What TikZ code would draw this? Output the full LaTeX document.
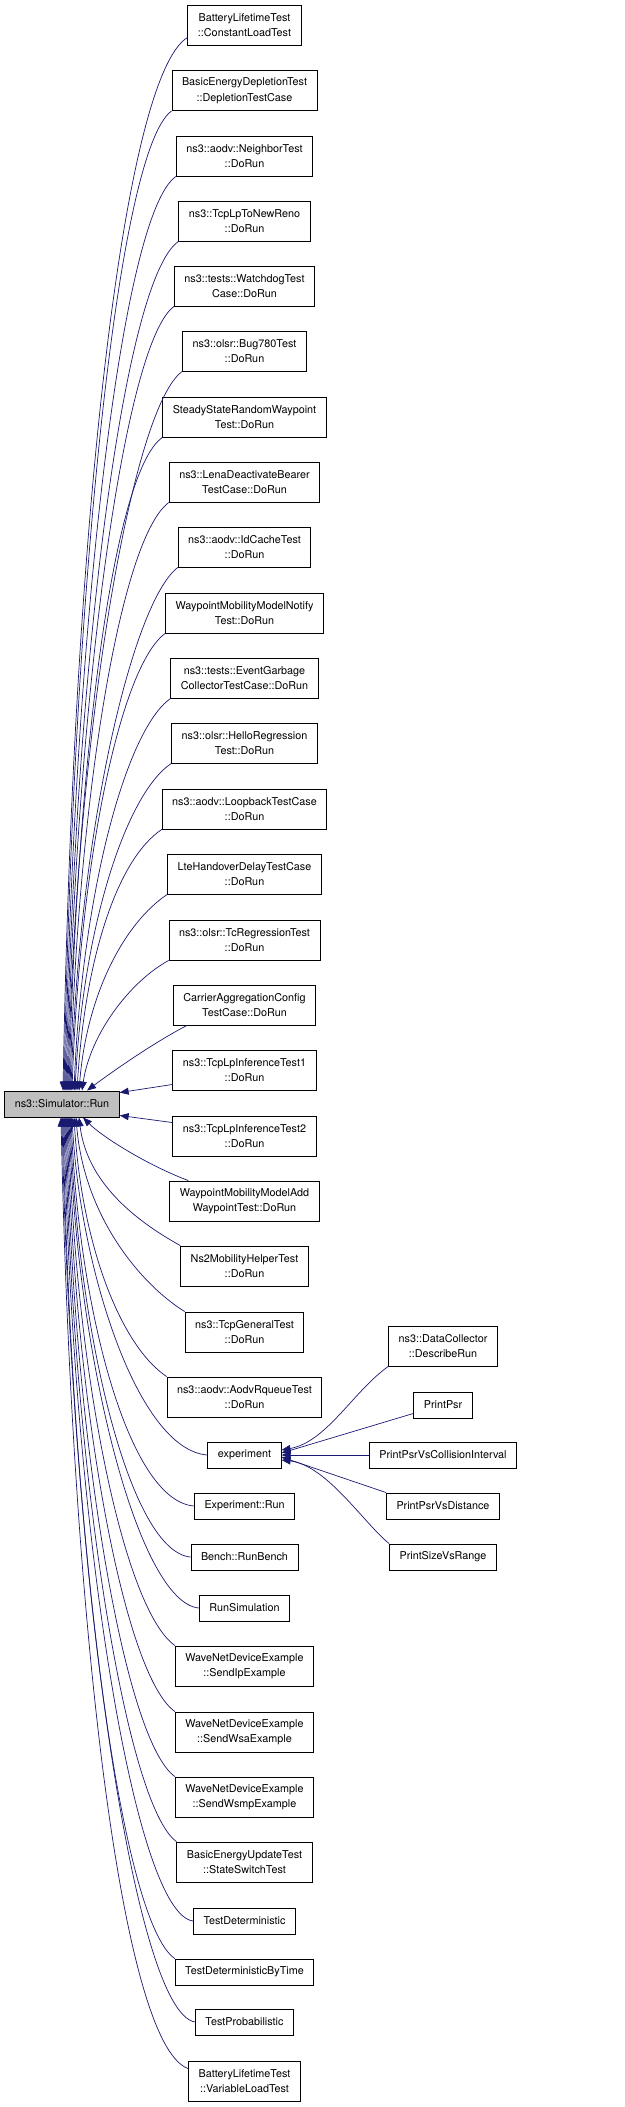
\documentclass[tikz,border=0pt]{standalone}
\usepackage{fontspec}
\setmainfont{TeX Gyre Heros}
\usepackage{xcolor}
\usepackage{tikz}
\usetikzlibrary{arrows.meta}
\definecolor{edgeblue}{HTML}{191970}
\definecolor{simgray}{HTML}{BFBFBF}

\begin{document}
\begin{tikzpicture}[x=1pt, y=-1pt,
    func/.style={rectangle, draw, line width=0.9pt, minimum height=26pt, inner xsep=10pt, inner ysep=5pt, align=center, font=\fontsize{10.8}{15.5}\selectfont},
    tall/.style={func, minimum height=40pt},
    edge/.style={-{Triangle[length=9pt,width=7pt]}, color=edgeblue, line width=0.7pt}
]
\useasboundingbox (0,0) rectangle (624,2107);

% the function and its callers
\node[func, fill=simgray] (sim) at (62,1104) {ns3::Simulator::Run};

\node[tall] (constload) at (244.5,25) {BatteryLifetimeTest\\::ConstantLoadTest};
\node[tall] (depletion) at (244.5,90.5) {BasicEnergyDepletionTest\\::DepletionTestCase};
\node[tall] (neighbor) at (244.5,156) {ns3::aodv::NeighborTest\\::DoRun};
\node[tall] (tcplpreno) at (244.5,221) {ns3::TcpLpToNewReno\\::DoRun};
\node[tall] (watchdog) at (244.5,286) {ns3::tests::WatchdogTest\\Case::DoRun};
\node[tall] (bug780) at (244.5,351) {ns3::olsr::Bug780Test\\::DoRun};
\node[tall] (steadystate) at (244.5,417) {SteadyStateRandomWaypoint\\Test::DoRun};
\node[tall] (lenadeact) at (244.5,482) {ns3::LenaDeactivateBearer\\TestCase::DoRun};
\node[tall] (idcache) at (244.5,547) {ns3::aodv::IdCacheTest\\::DoRun};
\node[tall] (wpnotify) at (244.5,613) {WaypointMobilityModelNotify\\Test::DoRun};
\node[tall] (garbage) at (244.5,678) {ns3::tests::EventGarbage\\CollectorTestCase::DoRun};
\node[tall] (hello) at (244.5,743) {ns3::olsr::HelloRegression\\Test::DoRun};
\node[tall] (loopback) at (244.5,809) {ns3::aodv::LoopbackTestCase\\::DoRun};
\node[tall] (ltehandover) at (244.5,874) {LteHandoverDelayTestCase\\::DoRun};
\node[tall] (tcregress) at (244.5,940) {ns3::olsr::TcRegressionTest\\::DoRun};
\node[tall] (carrier) at (244.5,1005) {CarrierAggregationConfig\\TestCase::DoRun};
\node[tall] (inferone) at (244.5,1070) {ns3::TcpLpInferenceTest1\\::DoRun};
\node[tall] (infertwo) at (244.5,1136) {ns3::TcpLpInferenceTest2\\::DoRun};
\node[tall] (wpadd) at (244.5,1201) {WaypointMobilityModelAdd\\WaypointTest::DoRun};
\node[tall] (ns2) at (244.5,1266) {Ns2MobilityHelperTest\\::DoRun};
\node[tall] (tcpgeneral) at (244.5,1332) {ns3::TcpGeneralTest\\::DoRun};
\node[tall] (rqueue) at (244.5,1397) {ns3::aodv::AodvRqueueTest\\::DoRun};
\node[func] (experiment) at (244.5,1455) {experiment};
\node[func] (exprun) at (244.5,1506) {Experiment::Run};
\node[func] (bench) at (244.5,1557) {Bench::RunBench};
\node[func] (runsim) at (244.5,1608) {RunSimulation};
\node[tall] (sendip) at (244.5,1666) {WaveNetDeviceExample\\::SendIpExample};
\node[tall] (sendwsa) at (244.5,1732) {WaveNetDeviceExample\\::SendWsaExample};
\node[tall] (sendwsmp) at (244.5,1797) {WaveNetDeviceExample\\::SendWsmpExample};
\node[tall] (stateswitch) at (244.5,1862) {BasicEnergyUpdateTest\\::StateSwitchTest};
\node[func] (testdet) at (244.5,1921) {TestDeterministic};
\node[func] (testdettime) at (244.5,1972) {TestDeterministicByTime};
\node[func] (testprob) at (244.5,2022) {TestProbabilistic};
\node[tall] (varload) at (244.5,2081) {BatteryLifetimeTest\\::VariableLoadTest};

% callers of experiment
\node[tall] (describerun) at (443,1346) {ns3::DataCollector\\::DescribeRun};
\node[func] (printpsr) at (443,1405) {PrintPsr};
\node[func] (psrcoll) at (443,1455) {PrintPsrVsCollisionInterval};
\node[func] (psrdist) at (443,1506) {PrintPsrVsDistance};
\node[func] (sizerange) at (443,1557) {PrintSizeVsRange};

% edges into the top of sim
\draw[edge] ([yshift=8pt]constload.south west) .. controls +(-65,40) and +(10,-560) .. ([xshift=1pt]sim.north);
\draw[edge] (depletion.south west) .. controls +(-55,40) and +(9,-490) .. ([xshift=2pt]sim.north);
\draw[edge] (neighbor.south west) .. controls +(-55,38) and +(9,-458) .. ([xshift=3pt]sim.north);
\draw[edge] (tcplpreno.south west) .. controls +(-55,38) and +(9,-425) .. ([xshift=4pt]sim.north);
\draw[edge] (watchdog.south west) .. controls +(-50,36) and +(9,-392) .. ([xshift=5pt]sim.north);
\draw[edge] (bug780.south west) .. controls +(-50,36) and +(8,-360) .. ([xshift=6pt]sim.north);
\draw[edge] (steadystate.south west) .. controls +(-50,35) and +(8,-327) .. ([xshift=7pt]sim.north);
\draw[edge] (lenadeact.south west) .. controls +(-48,35) and +(8,-295) .. ([xshift=8pt]sim.north);
\draw[edge] (idcache.south west) .. controls +(-45,35) and +(8,-262) .. ([xshift=9pt]sim.north);
\draw[edge] (wpnotify.south west) .. controls +(-45,33) and +(8,-229) .. ([xshift=10pt]sim.north);
\draw[edge] (garbage.south west) .. controls +(-45,32) and +(8,-196) .. ([xshift=12pt]sim.north);
\draw[edge] (hello.south west) .. controls +(-45,30) and +(8,-164) .. ([xshift=13pt]sim.north);
\draw[edge] (loopback.south west) .. controls +(-45,30) and +(8,-131) .. ([xshift=15pt]sim.north);
\draw[edge] (ltehandover.south west) .. controls +(-42,28) and +(8,-98) .. ([xshift=17pt]sim.north);
\draw[edge] (tcregress.south west) .. controls +(-40,22) and +(8,-55) .. ([xshift=20pt]sim.north);
\draw[edge] ([xshift=14pt]carrier.south west) .. controls +(-35,18) and +(20,-15) .. ([xshift=25pt]sim.north);
\draw[edge] ([yshift=6pt]inferone.south west) -- ([yshift=-2pt]sim.north east);

% edges into the bottom of sim
\draw[edge] ([yshift=-7pt]infertwo.north west) -- ([yshift=2pt]sim.south east);
\draw[edge] ([xshift=19pt]wpadd.north west) .. controls +(-40,-15) and +(20,20) .. ([xshift=21pt]sim.south);
\draw[edge] (ns2.north west) .. controls +(-45,-25) and +(8,65) .. ([xshift=17pt]sim.south);
\draw[edge] (tcpgeneral.north west) .. controls +(-45,-28) and +(8,98) .. ([xshift=14pt]sim.south);
\draw[edge] (rqueue.north west) .. controls +(-45,-30) and +(8,130) .. ([xshift=12pt]sim.south);
\draw[edge] (experiment.west) .. controls +(-70,-5) and +(8,150) .. ([xshift=10pt]sim.south);
\draw[edge] (exprun.west) .. controls +(-65,-5) and +(8,195) .. ([xshift=9pt]sim.south);
\draw[edge] (bench.west) .. controls +(-60,-5) and +(8,220) .. ([xshift=8pt]sim.south);
\draw[edge] (runsim.west) .. controls +(-60,-5) and +(8,245) .. ([xshift=7pt]sim.south);
\draw[edge] (sendip.north west) .. controls +(-50,-35) and +(8,265) .. ([xshift=6pt]sim.south);
\draw[edge] (sendwsa.north west) .. controls +(-50,-35) and +(8,298) .. ([xshift=5pt]sim.south);
\draw[edge] (sendwsmp.north west) .. controls +(-50,-35) and +(8,330) .. ([xshift=4pt]sim.south);
\draw[edge] (stateswitch.north west) .. controls +(-50,-36) and +(8,362) .. ([xshift=3pt]sim.south);
\draw[edge] (testdet.west) .. controls +(-60,-8) and +(8,402) .. ([xshift=2pt]sim.south);
\draw[edge] (testdettime.north west) .. controls +(-55,-38) and +(8,421) .. ([xshift=1pt]sim.south);
\draw[edge] (testprob.west) .. controls +(-62,-10) and +(9,452) .. (sim.south);
\draw[edge] ([yshift=-8pt]varload.north west) .. controls +(-70,-25) and +(10,476) .. ([xshift=-1pt]sim.south);

% edges into experiment
\draw[edge] (describerun.south west) .. controls +(-35,25) and +(45,-8) .. ([yshift=5pt]experiment.east);
\draw[edge] ([yshift=5pt]printpsr.south west) -- ([yshift=2pt]experiment.east);
\draw[edge] (psrcoll) -- (experiment);
\draw[edge] (psrdist.north west) -- ([yshift=-2pt]experiment.east);
\draw[edge] (sizerange.north west) .. controls +(-25,-20) and +(45,5) .. ([yshift=-5pt]experiment.east);
\end{tikzpicture}
\end{document}
